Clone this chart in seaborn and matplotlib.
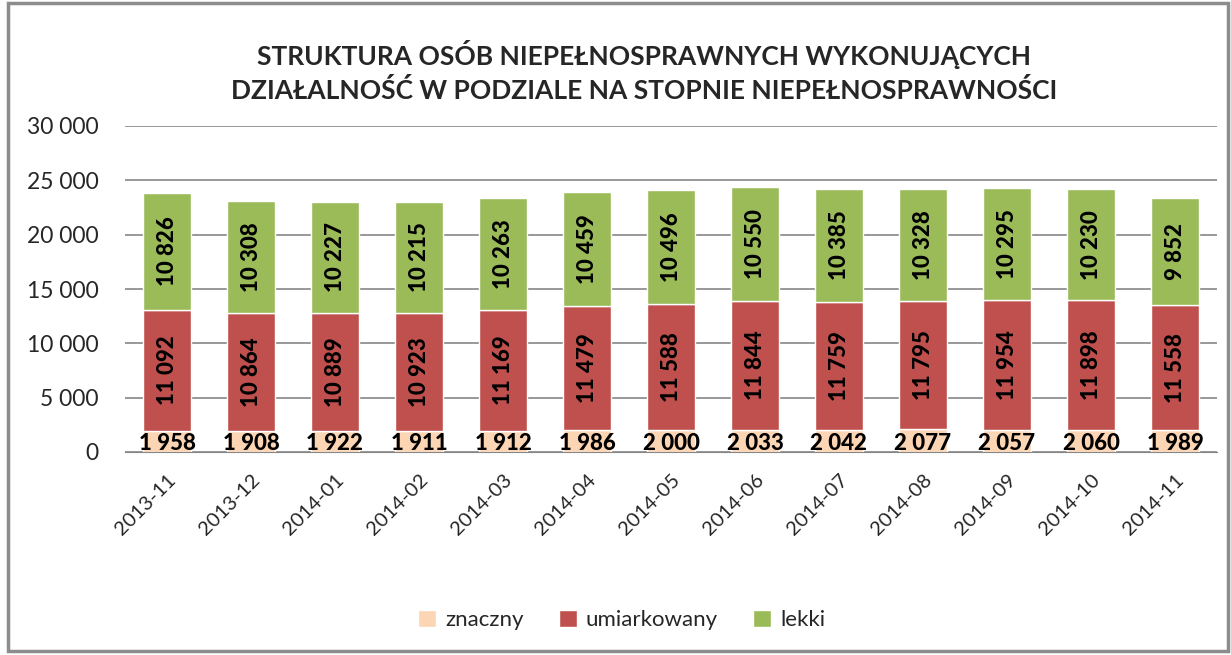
import numpy as np
import pandas as pd
import seaborn as sns
from matplotlib import pyplot as plt
from matplotlib.patches import Rectangle, Patch
from matplotlib.ticker import FuncFormatter

# data
months = ["2013-11", "2013-12", "2014-01", "2014-02", "2014-03", "2014-04", "2014-05",
          "2014-06", "2014-07", "2014-08", "2014-09", "2014-10", "2014-11"]
znaczny = [1958, 1908, 1922, 1911, 1912, 1986, 2000, 2033, 2042, 2077, 2057, 2060, 1989]
umiarkowany = [11092, 10864, 10889, 10923, 11169, 11479, 11588, 11844, 11759, 11795, 11954, 11898, 11558]
lekki = [10826, 10308, 10227, 10215, 10263, 10459, 10496, 10550, 10385, 10328, 10295, 10230, 9852]

series = ["znaczny", "umiarkowany", "lekki"]
colors = ["#FCD5B5", "#C0504D", "#9BBB59"]

df = pd.DataFrame({"miesiac": months, "znaczny": znaczny,
                   "umiarkowany": umiarkowany, "lekki": lekki})

sns.set_style("white")
plt.rcParams['font.family'] = ['Lato', 'DejaVu Sans']


def fmt(v):
    return f"{int(v):,}".replace(",", " ")


fig = plt.figure(figsize=(12.31, 6.55), dpi=100)
ax = fig.add_axes([125 / 1231, 1 - 452 / 655, 1092 / 1231, 326 / 655])

bottom = np.zeros(len(months))
for name, col in zip(series, colors):
    sns.barplot(data=df, x="miesiac", y=name, color=col, bottom=bottom,
                width=0.57, ax=ax, saturation=1)
    bottom = bottom + df[name].values

# labels
lab = dict(fontsize=16, fontweight="black", color="black")
for i in range(len(months)):
    ax.text(i, -150, fmt(znaczny[i]), ha="center", va="bottom", **lab)
    ax.text(i, znaczny[i] + umiarkowany[i] / 2, fmt(umiarkowany[i]), ha="center",
            va="center", rotation=90, **lab)
    ax.text(i, znaczny[i] + umiarkowany[i] + lekki[i] / 2, fmt(lekki[i]), ha="center",
            va="center", rotation=90, **lab)

ax.set_ylim(0, 30000)
ax.set_yticks(range(0, 30001, 5000))
ax.yaxis.set_major_formatter(FuncFormatter(lambda v, p: fmt(v)))
ax.set_xlim(-0.5, len(months) - 0.5)
ax.grid(axis="y", color="#868686", linewidth=1.2)
ax.set_axisbelow(True)
for s in ["top", "right", "left"]:
    ax.spines[s].set_visible(False)
ax.spines["bottom"].set_color("#868686")
ax.set_xlabel("")
ax.set_ylabel("")
ax.tick_params(axis="y", labelsize=16.5, length=0, pad=19)
ax.tick_params(axis="x", labelsize=14.5, length=0, pad=14)
plt.setp(ax.get_xticklabels(), rotation=45, ha="right", rotation_mode="anchor")

fig.text(0.523, 1 - 40 / 655, "STRUKTURA OSÓB NIEPEŁNOSPRAWNYCH WYKONUJĄCYCH\n"
         "DZIAŁALNOŚĆ W PODZIALE NA STOPNIE NIEPEŁNOSPRAWNOŚCI",
         ha="center", va="top", fontsize=19, fontweight="bold", linespacing=1.45)

handles = [Patch(facecolor=c, label=n) for n, c in zip(series, colors)]
fig.legend(handles=handles, loc="center", bbox_to_anchor=(0.505, 1 - 620 / 655),
           ncol=3, frameon=False, fontsize=16, handlelength=0.8, handleheight=0.8,
           columnspacing=1.6, handletextpad=0.4)

fig.patches.append(Rectangle((8 / 1231, 4 / 655), 1220 / 1231, 648 / 655,
                             transform=fig.transFigure, fill=False,
                             edgecolor="#8c8c8c", linewidth=2.5))

fig.savefig("out.png", dpi=100)
